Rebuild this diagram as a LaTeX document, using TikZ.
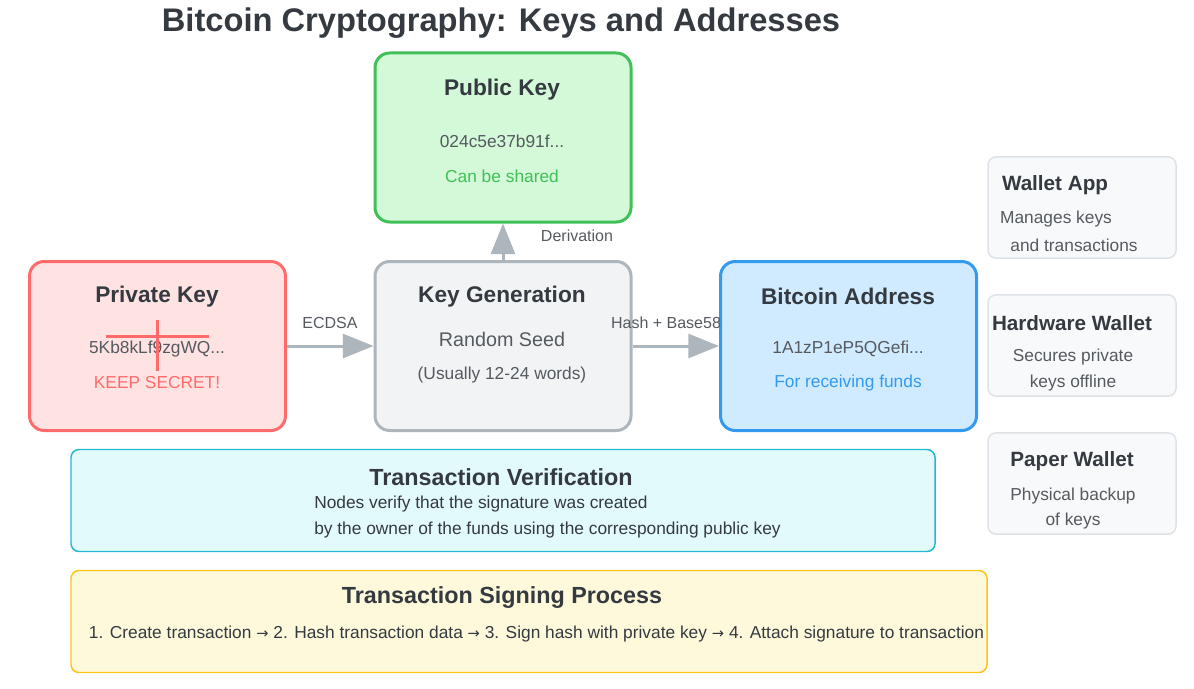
\documentclass[tikz,border=0pt]{standalone}
\usepackage{fontspec}
\setmainfont{Liberation Sans}
\newfontfamily\arrowfont{DejaVu Sans}
\usetikzlibrary{arrows.meta}

\definecolor{txtdark}{HTML}{343A40}
\definecolor{txtgray}{HTML}{555A60}
\definecolor{arrgray}{HTML}{ADB5BD}
\definecolor{redline}{HTML}{FF6B6B}
\definecolor{redfill}{HTML}{FFE3E3}
\definecolor{greenline}{HTML}{40C057}
\definecolor{greenfill}{HTML}{D3F9D8}
\definecolor{grayfill}{HTML}{F1F3F5}
\definecolor{blueline}{HTML}{339AF0}
\definecolor{bluefill}{HTML}{D0EBFF}
\definecolor{walletline}{HTML}{DEE2E6}
\definecolor{walletfill}{HTML}{F8F9FA}
\definecolor{cyanline}{HTML}{22B8CF}
\definecolor{cyanfill}{HTML}{E3FAFC}
\definecolor{yellowline}{HTML}{FCC419}
\definecolor{yellowfill}{HTML}{FFF9DB}

\newcommand{\stepto}{{\arrowfont\fontsize{11}{14}\selectfont →}}

\tikzset{
  keybox/.style={draw, line width=2.25pt, rounded corners=11pt, minimum width=192pt, minimum height=126.75pt, inner sep=0pt},
  walletbox/.style={draw=walletline, fill=walletfill, line width=1.1pt, rounded corners=6pt, minimum width=141pt, minimum height=76pt, inner sep=0pt},
  infobox/.style={line width=1.1pt, rounded corners=6pt, minimum height=76.5pt, inner sep=0pt},
  boxtitle/.style={inner sep=0.75pt, text=txtdark, font=\fontsize{17}{20}\selectfont\bfseries},
  bodytext/.style={inner sep=0.75pt, text=txtgray, font=\fontsize{13}{16}\selectfont},
  arrlabel/.style={inner sep=0.75pt, text=txtgray, font=\fontsize{12}{14}\selectfont},
  flowarrow/.style={draw=arrgray, line width=2.25pt, -{Triangle[length=23pt,width=18pt]}},
}

\begin{document}
\begin{tikzpicture}[x=0.75pt,y=0.75pt,yscale=-1,xscale=1]
        \useasboundingbox (0,0) rectangle (1194,688);
        % Title
        \node (title) at (501,23) [inner sep=0.75pt, text=txtdark, font=\fontsize{24.5}{29}\selectfont\bfseries] {Bitcoin Cryptography: Keys and Addresses};
        %Key boxes
        \node (pub) at (503,137.5) [keybox, draw=greenline, fill=greenfill] {};
        \node (priv) at (157.5,346) [keybox, draw=redline, fill=redfill] {};
        \node (keygen) at (503,346) [keybox, draw=arrgray, fill=grayfill] {};
        \node (addr) at (848.5,346) [keybox, draw=blueline, fill=bluefill] {};
        % Public Key text
        \node (pubtitle) at (502,90) [boxtitle] {Public Key};
        \node (pubhex) at (502,141) [bodytext] {024c5e37b91f...};
        \node (pubnote) at (502,176) [bodytext, text=greenline] {Can be shared};
        % Private Key text
        \node (privtitle) at (157,297) [boxtitle] {Private Key};
        \node (privwif) at (157,349) [bodytext] {5Kb8kLf9zgWQ...};
        \node (privnote) at (157,383) [bodytext, text=redline] {KEEP SECRET!};
        %Cross over the private key
        \draw [redline, line width=2.25pt] (106,336) -- (209,336) ;
        \draw [redline, line width=2.25pt] (157,320) -- (157,371) ;
        % Key Generation text
        \node (gentitle) at (502,297) [boxtitle] {Key Generation};
        \node (genseed) at (502,339) [bodytext, font=\fontsize{14.8}{18}\selectfont] {Random Seed};
        \node (genwords) at (502,375) [bodytext] {(Usually 12-24 words)};
        % Bitcoin Address text
        \node (addrtitle) at (848,296) [boxtitle] {Bitcoin Address};
        \node (addrhash) at (848,349) [bodytext] {1A1zP1eP5QGefi...};
        \node (addrnote) at (848,383) [bodytext, text=blueline] {For receiving funds};
        %Arrows
        \draw [flowarrow] (priv.east) -- (keygen.west) ;
        \draw [flowarrow] (keygen.east) -- (addr.west) ;
        \draw [flowarrow] (keygen.north) -- (pub.south) ;
        \node (ecdsa) at (330,323) [arrlabel] {ECDSA};
        \node (hashlbl) at (666,323) [arrlabel] {Hash + Base58};
        \node (derivlbl) at (577,236) [arrlabel] {Derivation};
        %Wallets
        \node (walletapp) at (1082,207.5) [walletbox] {};
        \node (hardware) at (1082,345.5) [walletbox] {};
        \node (paper) at (1082,483.5) [walletbox] {};
        \node (apptitle) at (1055,185) [boxtitle, font=\fontsize{15.5}{18}\selectfont\bfseries] {Wallet App};
        \node (apptext1) at (1056,219) [bodytext] {Manages keys};
        \node (apptext2) at (1074,245) [bodytext] {and transactions};
        \node (hwtitle) at (1072,323) [boxtitle, font=\fontsize{15.5}{18}\selectfont\bfseries] {Hardware Wallet};
        \node (hwtext1) at (1073,357) [bodytext] {Secures private};
        \node (hwtext2) at (1073,383) [bodytext] {keys offline};
        \node (papertitle) at (1072,461) [boxtitle, font=\fontsize{15.5}{18}\selectfont\bfseries] {Paper Wallet};
        \node (papertext1) at (1073,496) [bodytext] {Physical backup};
        \node (papertext2) at (1073,521) [bodytext] {of keys};
        % Transaction Verification
        \node (verify) at (503,500.5) [infobox, draw=cyanline, fill=cyanfill, minimum width=648pt] {};
        \node (verifytitle) at (501,477) [boxtitle, font=\fontsize{17.5}{20}\selectfont\bfseries] {Transaction Verification};
        \node (verifytext1) at (313,504) [bodytext, anchor=west, text=txtdark, font=\fontsize{13}{15}\selectfont] {Nodes verify that the signature was created};
        \node (verifytext2) at (313,530) [bodytext, anchor=west, text=txtdark, font=\fontsize{13}{15}\selectfont] {by the owner of the funds using the corresponding public key};
        % Transaction Signing Process
        \node (signing) at (529,621.5) [infobox, draw=yellowline, fill=yellowfill, minimum width=687pt] {};
        \node (signtitle) at (502,598) [boxtitle, font=\fontsize{17.5}{20}\selectfont\bfseries] {Transaction Signing Process};
        \node (signsteps) at (536.5,634) [bodytext, text=txtdark, font=\fontsize{13}{15}\selectfont] {1. Create transaction \stepto{} 2. Hash transaction data \stepto{} 3. Sign hash with private key \stepto{} 4. Attach signature to transaction};
\end{tikzpicture}
\end{document}
